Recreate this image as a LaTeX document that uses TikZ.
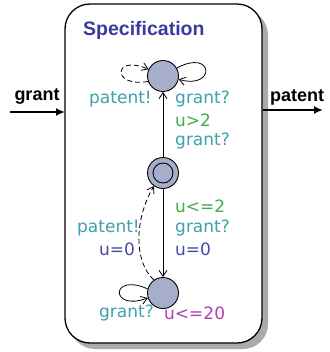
\documentclass[tikz,border=0pt]{standalone}
\usepackage{fontspec}
\setmainfont{DejaVu Sans}
\newfontfamily\hvfont{Liberation Sans}
\usetikzlibrary{arrows.meta}
\definecolor{syncteal}{RGB}{64,160,170}
\definecolor{guardgreen}{RGB}{64,176,72}
\definecolor{assignblue}{RGB}{72,72,168}
\definecolor{invpurple}{RGB}{176,64,176}
\definecolor{locfill}{RGB}{166,174,204}
\definecolor{titleblue}{RGB}{58,58,160}
\begin{document}
\begin{tikzpicture}[x=1pt,y=-1pt,
  loc/.style={circle,draw,fill=locfill,minimum size=31pt,inner sep=0pt,line width=0.9pt},
  lbl/.style={inner sep=0pt,anchor=west,font=\fontsize{17}{17}\selectfont},
  sync/.style={lbl,text=syncteal},
  guard/.style={lbl,text=guardgreen},
  assign/.style={lbl,text=assignblue},
  inv/.style={lbl,text=invpurple},
  trans/.style={line width=0.8pt,-{Straight Barb[length=6pt,width=8pt]}},
  urgent/.style={trans,dash pattern=on 5pt off 3pt},
  port/.style={line width=1.8pt,-{Latex[length=9pt,width=8pt]}},
  portlbl/.style={inner sep=0pt,font=\hvfont\bfseries\fontsize{18}{18}\selectfont}
]
\useasboundingbox (0,0) rectangle (329,352);

% component frame with its drop shadow
\fill[black!33,rounded corners=25pt] (70,10) rectangle (268,349);
\draw[fill=white,rounded corners=25pt,line width=1.3pt] (65,4) rectangle (262,343);
\node[anchor=west,inner sep=0pt,text=titleblue,font=\hvfont\bfseries\fontsize{19.5}{19.5}\selectfont] (title) at (83,30) {Specification};

% locations
\node[loc] (top) at (163,76) {};
\node[loc] (mid) at (163,173) {};
\node[circle,draw,line width=0.9pt,minimum size=20pt,inner sep=0pt] (midin) at (mid) {};
\node[loc] (bot) at (163,293) {};

% self loops
\draw[urgent] (top.200) .. controls (112,88) and (112,54) .. (top.155);
\draw[trans] (top.30) .. controls (214,48) and (216,90) .. (top.-12);
\draw[trans] (bot.165) .. controls (110,272) and (110,312) .. (bot.198);

% transitions between locations
\draw[trans] (mid) -- (top);
\draw[trans] (mid) -- (bot);
\draw[urgent] (bot.125) .. controls (134,262) and (134,220) .. (mid.235);

% labels
\node[sync] (l1) at (89,99) {patent!};
\node[sync] (l2) at (175,99) {grant?};
\node[guard] (l3) at (175,120) {u>2};
\node[sync] (l4) at (175,141) {grant?};
\node[guard] (l5) at (175,206) {u<=2};
\node[sync] (l6) at (175,228) {grant?};
\node[assign] (l7) at (175,249) {u=0};
\node[sync] (l8) at (77,228) {patent!};
\node[assign] (l9) at (99,249) {u=0};
\node[sync] (l10) at (99,313) {grant?};
\node[inv] (l11) at (164,313) {u<=20};

% external ports
\coordinate (gin) at (10,112);
\coordinate (gend) at (65,112);
\draw[port] (gin) -- (gend);
\node[portlbl] (glbl) at (37,97) {grant};
\coordinate (pstart) at (263,110);
\coordinate (pout) at (323,110);
\draw[port] (pstart) -- (pout);
\node[portlbl] (plbl) at (297,97) {patent};
\end{tikzpicture}
\end{document}
